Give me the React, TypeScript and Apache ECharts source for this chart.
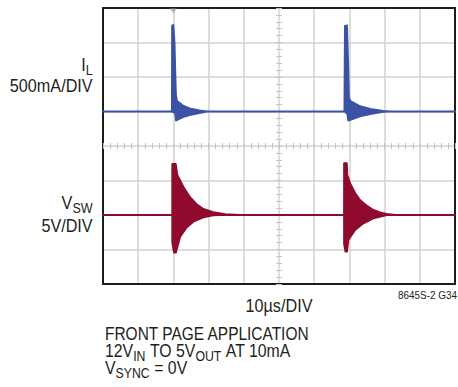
import React, { useEffect, useRef } from "react";
import * as echarts from "echarts";

// ---- Data read from the scope shot (time in µs, I_L in A, V_SW in V) ----
const TIME_MIN = 0;
const TIME_MAX = 100; // 10 µs/DIV x 10 divisions

// Inductor current envelope (upper / lower), 500mA/DIV, 0A at 5th division
const IL_UPPER: [number, number][] = [
  [0, 0], [19.6, 0], [19.65, 1.24], [19.95, 1.255], [20.3, 1.0], [20.55, 0.5], [20.7, 0.24],
  [21.0, 0.15], [22.7, 0.085], [24.6, 0.045], [27.4, 0.016], [29.5, 0],
  [68.6, 0], [68.75, 1.24], [69.3, 1.245], [69.6, 0.75], [69.85, 0.2], [70.2, 0.155],
  [73.0, 0.075], [75.9, 0.036], [79.6, 0.008], [81.5, 0], [100, 0],
];
const IL_LOWER: [number, number][] = [
  [0, 0], [19.6, 0], [20.5, -0.02], [20.75, -0.13], [22.7, -0.08], [24.6, -0.05],
  [27.4, -0.022], [29.5, 0],
  [68.6, 0], [69.4, -0.03], [69.7, -0.13], [73.0, -0.07], [75.9, -0.036], [79.6, -0.004],
  [81.5, 0], [100, 0],
];

// Switch node voltage envelope, 5V/DIV, 0V at 2nd division
const VSW_UPPER: [number, number][] = [
  [0, 0], [19.69, 0], [19.7, 7.39], [20.65, 7.39], [21.1, 5.8], [22.8, 4.1], [24.7, 2.57],
  [26.6, 1.55], [28.5, 0.87], [31.3, 0.39], [34.7, 0.1], [38.9, 0],
  [68.5, 0], [68.51, 7.49], [69.25, 7.49], [69.4, 5.8], [70.17, 4.6], [71.6, 3.19],
  [73.0, 2.17], [74.9, 1.35], [76.8, 0.72], [78.7, 0.36], [80.6, 0.14], [83.0, 0], [100, 0],
];
const VSW_LOWER: [number, number][] = [
  [0, 0], [19.69, 0], [19.7, -4.0], [20.2, -5.45], [20.7, -5.45], [21.9, -3.14],
  [23.8, -1.78], [25.65, -0.97], [28.5, -0.33], [31.3, -0.05], [33.0, 0],
  [68.5, 0], [68.51, -4.2], [68.9, -5.3], [69.3, -5.3], [69.7, -3.62], [71.6, -2.17],
  [73.95, -1.2], [76.8, -0.48], [80.6, 0], [100, 0],
];

const TRIGGER_TIME = 20;

// Axis ranges (8 vertical divisions)
const IL_MIN = -2.5;
const IL_MAX = 1.5;
const IL_STEP = 0.5;
const VSW_MIN = -10;
const VSW_MAX = 30;
const VSW_STEP = 5;

// Labels
const LABEL_IL = [{ t: "I" }, { t: "L", sub: true }];
const LABEL_IL_SCALE = [{ t: "500mA/DIV" }];
const LABEL_VSW = [{ t: "V" }, { t: "SW", sub: true }];
const LABEL_VSW_SCALE = [{ t: "5V/DIV" }];
const LABEL_TIME = [{ t: "10µs/DIV" }];
const LABEL_CODE = [{ t: "8645S-2 G34" }];
const NOTE_1 = [{ t: "FRONT PAGE APPLICATION" }];
const NOTE_2 = [{ t: "12V" }, { t: "IN", sub: true }, { t: " TO 5V" }, { t: "OUT", sub: true }, { t: " AT 10mA" }];
const NOTE_3 = [{ t: "V" }, { t: "SYNC", sub: true }, { t: " = 0V" }];

const BLUE = "#3a53a4";
const RED = "#8f0a2c";
const GRID = "#d2d2d2";
const BORDER = "#1c1c1c";
const TEXT = "#231f20";
const FONT = '"Liberation Sans", Arial, sans-serif';

type Piece = { t: string; sub?: boolean };

let measureCtx: CanvasRenderingContext2D | null = null;
function measure(text: string, size: number): number {
  if (!measureCtx) measureCtx = document.createElement("canvas").getContext("2d");
  if (!measureCtx) return text.length * size * 0.55;
  measureCtx.font = `${size}px ${FONT}`;
  return measureCtx.measureText(text).width;
}

function makeLabel(
  pieces: Piece[],
  x: number,
  y: number,
  align: "left" | "right" | "center",
  size = 18,
  subSize = 14,
  scale = 0.88,
  subDy = 5
) {
  const widths = pieces.map((p) => measure(p.t, p.sub ? subSize : size));
  const total = widths.reduce((a, b) => a + b, 0);
  let cur = align === "left" ? 0 : align === "right" ? -total : -total / 2;
  const children: any[] = [];
  pieces.forEach((p, i) => {
    const fs = p.sub ? subSize : size;
    const trimmed = p.t.replace(/^\s+/, "");
    const lead = p.t.length - trimmed.length;
    const px = cur + (lead ? measure(" ".repeat(lead), fs) : 0);
    children.push({
      type: "text",
      x: px,
      y: p.sub ? subDy : 0,
      style: {
        text: trimmed,
        font: `${fs}px ${FONT}`,
        fill: TEXT,
        align: "left",
        verticalAlign: "middle",
        textAlign: "left",
        textVerticalAlign: "middle",
      },
    });
    cur += widths[i];
  });
  return { type: "group", x, y, scaleX: scale, scaleY: 1, children, silent: true };
}

function envelopeSeries(upper: [number, number][], lower: [number, number][], yAxisIndex: number, color: string) {
  return {
    type: "custom",
    xAxisIndex: 0,
    yAxisIndex,
    data: [[upper[0][0], upper[0][1]]],
    silent: true,
    z: 3,
    renderItem: (_params: any, api: any) => {
      const pts = [
        ...upper.map((p) => api.coord(p)),
        ...lower.slice().reverse().map((p) => api.coord(p)),
      ];
      return {
        type: "polygon",
        shape: { points: pts },
        style: { fill: color, stroke: color, lineWidth: 2, lineJoin: "round" },
      };
    },
  };
}

const hidden = { show: false };

export default function App() {
  const ref = useRef<HTMLDivElement>(null);
  useEffect(() => {
    if (!ref.current) return;
    const chart = echarts.init(ref.current, undefined, { renderer: "svg" });
    const borderLine = { show: true, onZero: false, lineStyle: { color: BORDER, width: 2 } };
    const tickStyle = { color: "#c4c4c4", width: 1 };
    const option: any = {
      animation: false,
      grid: { left: 103, top: 8, width: 352, height: 276, outerBoundsMode: "none" },
      xAxis: [
        {
          type: "value", min: TIME_MIN, max: TIME_MAX, interval: 10, position: "bottom",
          axisLine: borderLine, axisTick: hidden, axisLabel: hidden,
          splitLine: { show: true, showMinLine: false, showMaxLine: false, lineStyle: { color: GRID, width: 1.5 } },
        },
        {
          type: "value", min: TIME_MIN, max: TIME_MAX, interval: 10, position: "top",
          axisLine: borderLine, axisTick: hidden, axisLabel: hidden, splitLine: hidden,
        },
        {
          type: "value", min: 0, max: 50, interval: 1, position: "bottom", offset: -138,
          axisLine: hidden, axisTick: { show: true, inside: false, length: 3, lineStyle: tickStyle },
          axisLabel: hidden, splitLine: hidden,
        },
        {
          type: "value", min: 0, max: 50, interval: 1, position: "bottom", offset: -138,
          axisLine: hidden, axisTick: { show: true, inside: true, length: 3, lineStyle: tickStyle },
          axisLabel: hidden, splitLine: hidden,
        },
      ],
      yAxis: [
        {
          type: "value", min: IL_MIN, max: IL_MAX, interval: IL_STEP, position: "left",
          axisLine: borderLine, axisTick: hidden, axisLabel: hidden,
          splitLine: { show: true, showMinLine: false, showMaxLine: false, lineStyle: { color: GRID, width: 1.5 } },
        },
        {
          type: "value", min: VSW_MIN, max: VSW_MAX, interval: VSW_STEP, position: "right",
          axisLine: borderLine, axisTick: hidden, axisLabel: hidden, splitLine: hidden,
        },
        {
          type: "value", min: 0, max: 40, interval: 1, position: "left", offset: -176,
          axisLine: hidden, axisTick: { show: true, inside: false, length: 3, lineStyle: tickStyle },
          axisLabel: hidden, splitLine: hidden,
        },
        {
          type: "value", min: 0, max: 40, interval: 1, position: "left", offset: -176,
          axisLine: hidden, axisTick: { show: true, inside: true, length: 3, lineStyle: tickStyle },
          axisLabel: hidden, splitLine: hidden,
        },
      ],
      series: [
        envelopeSeries(IL_UPPER, IL_LOWER, 0, BLUE),
        envelopeSeries(VSW_UPPER, VSW_LOWER, 1, RED),
        {
          type: "scatter", xAxisIndex: 0, yAxisIndex: 0, silent: true,
          data: [[TRIGGER_TIME, IL_MAX]],
          symbol: "triangle", symbolRotate: 180, symbolSize: [7, 5], symbolOffset: [0, 3],
          itemStyle: { color: "#ababab" }, clip: false, z: 4,
        },
      ],
      graphic: [
        makeLabel(LABEL_IL, 92.7, 65, "right", 18, 14, 0.9, 5),
        makeLabel(LABEL_IL_SCALE, 92.7, 86.7, "right", 18, 14, 0.9),
        makeLabel(LABEL_VSW, 92.7, 203.3, "right", 18, 14, 0.9, 5),
        makeLabel(LABEL_VSW_SCALE, 92.7, 226.7, "right", 18, 14, 0.9),
        makeLabel(LABEL_CODE, 457, 295, "right", 11, 8, 0.9),
        makeLabel(LABEL_TIME, 279, 306.5, "center", 18, 14, 0.9),
        makeLabel(NOTE_1, 105, 334, "left", 18, 14, 0.86),
        makeLabel(NOTE_2, 105, 351, "left", 18, 14, 0.88),
        makeLabel(NOTE_3, 105, 368, "left", 18, 14, 0.88),
      ],
    };
    chart.setOption(option);
    return () => chart.dispose();
  }, []);
  return (
    <div
      ref={ref}
      style={{ position: "fixed", left: 0, top: 0, width: 458, height: 387, background: "#fff" }}
    />
  );
}
